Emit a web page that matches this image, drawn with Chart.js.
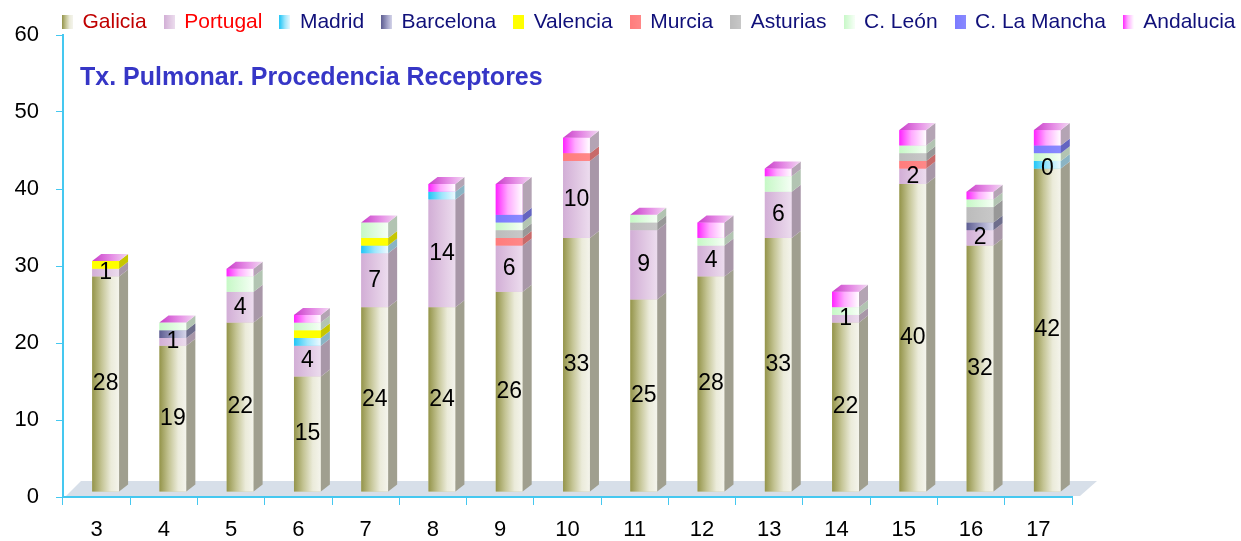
<!DOCTYPE html>
<html>
<head>
<meta charset="utf-8">
<script src="https://cdn.jsdelivr.net/npm/chart.js@4/dist/chart.umd.min.js"></script>
<style>
  html, body { margin: 0; padding: 0; background: #fff; }
</style>
</head>
<body>
<canvas id="txChart" width="1241" height="541"></canvas>
<script>
// Datos: trasplantes pulmonares por año y procedencia del receptor
const anios = ['3', '4', '5', '6', '7', '8', '9', '10', '11', '12', '13', '14', '15', '16', '17'];
const galicia     = [28, 19, 22, 15, 24, 24, 26, 33, 25, 28, 33, 22, 40, 32, 42];
const portugal    = [1, 1, 4, 4, 7, 14, 6, 10, 9, 4, 6, 1, 2, 2, 0];
const madrid      = [0, 0, 0, 1, 1, 1, 0, 0, 0, 0, 0, 0, 0, 0, 1];
const barcelona   = [0, 1, 0, 0, 0, 0, 0, 0, 0, 0, 0, 0, 0, 1, 0];
const valencia    = [1, 0, 0, 1, 1, 0, 0, 0, 0, 0, 0, 0, 0, 0, 0];
const murcia      = [0, 0, 0, 0, 0, 0, 1, 1, 0, 0, 0, 0, 1, 0, 0];
const asturias    = [0, 0, 0, 0, 0, 0, 1, 0, 1, 0, 0, 0, 1, 2, 0];
const cLeon       = [0, 1, 2, 1, 2, 0, 1, 0, 1, 1, 2, 1, 1, 1, 1];
const cLaMancha   = [0, 0, 0, 0, 0, 0, 1, 0, 0, 0, 0, 0, 0, 0, 1];
const andalucia   = [0, 0, 1, 1, 0, 1, 4, 2, 0, 2, 1, 2, 2, 1, 2];
const ticksY      = [0, 10, 20, 30, 40, 50, 60];
const titulo      = 'Tx. Pulmonar. Procedencia Receptores';

// Estilo de cada serie: degradado frontal, cara lateral y color del texto de la leyenda
const series = [
  { label: 'Galicia', data: galicia, base: '#c8c89a', side: '#a09f8f', txt: '#c00000',
    front: [[0, '#94944a'], [0.35, '#c4c494'], [0.7, '#ebebda'], [1, '#f4f4ec']] },
  { label: 'Portugal', data: portugal, base: '#dcc0e0', side: '#a897a8', txt: '#ff0000',
    front: [[0, '#d2aed6'], [0.6, '#e2cae4'], [1, '#ecdcee']] },
  { label: 'Madrid', data: madrid, base: '#33ccff', side: '#8ab4c4', txt: '#10107a',
    front: [[0, '#22c6f6'], [0.5, '#9ee6fc'], [1, '#eefaff']] },
  { label: 'Barcelona', data: barcelona, base: '#7a7aa6', side: '#6e6e8c', txt: '#10107a',
    front: [[0, '#5e5e92'], [0.6, '#a8a8cc'], [1, '#d6d6ea']] },
  { label: 'Valencia', data: valencia, base: '#ffff00', side: '#c6c600', txt: '#10107a',
    front: [[0, '#ffff00'], [1, '#ffff00']] },
  { label: 'Murcia', data: murcia, base: '#ff7f7f', side: '#c86a6a', txt: '#10107a',
    front: [[0, '#ff7c7c'], [1, '#ff8888']] },
  { label: 'Asturias', data: asturias, base: '#c0c0c0', side: '#989898', txt: '#10107a',
    front: [[0, '#bcbcbc'], [1, '#c8c8c8']] },
  { label: 'C. León', data: cLeon, base: '#ccffcc', side: '#b2c4b2', txt: '#10107a',
    front: [[0, '#c6f8c6'], [0.6, '#e2fce2'], [1, '#f6fff6']] },
  { label: 'C. La Mancha', data: cLaMancha, base: '#7f7fff', side: '#6464c0', txt: '#10107a',
    front: [[0, '#7a7aff'], [1, '#8a8aff']] },
  { label: 'Andalucia', data: andalucia, base: '#ff44ff', side: '#b4a4b4', txt: '#10107a',
    front: [[0, '#ff22ff'], [0.45, '#ffaaff'], [1, '#ffffff']] }
];

const EJE = '#45c8f0';
const DX = 9, DY = 7;            // profundidad de las columnas
const DESP_X = 9, DESP_Y = -5;   // desplazamiento de la perspectiva
const PAD_LEYENDA = 18;

// Muestras de color de la leyenda (pequeño degradado)
function muestra(stops) {
  const c = document.createElement('canvas');
  c.width = 11; c.height = 14;
  const g = c.getContext('2d');
  const gr = g.createLinearGradient(0, 0, 11, 0);
  stops.forEach(([o, col]) => gr.addColorStop(o, col));
  g.fillStyle = gr;
  g.fillRect(0, 0, 11, 14);
  return c;
}
const muestras = series.map(s => muestra(s.front));

// Suelo, caras laterales, tapa superior y etiquetas de valor
const columnas3d = {
  id: 'columnas3d',
  afterLayout(chart) {
    // la leyenda se dibuja sobre el área sin reservar más alto
    const lg = chart.legend;
    lg.top = 22 - PAD_LEYENDA - 10.5;
    lg.bottom = lg.top + 50;
    lg.left = 63 - PAD_LEYENDA;
    lg.right = 1300;
  },
  beforeDatasetsDraw(chart) {
    const { ctx, chartArea, scales } = chart;
    const y0 = scales.y.getPixelForValue(0);
    ctx.save();
    ctx.fillStyle = '#d7dfe9';
    ctx.beginPath();
    ctx.moveTo(chartArea.left + 3, y0 - 1);
    ctx.lineTo(chartArea.right + 8, y0 - 1);
    ctx.lineTo(chartArea.right + 25, y0 - 16);
    ctx.lineTo(chartArea.left + 18, y0 - 16);
    ctx.closePath();
    ctx.fill();
    ctx.restore();
    ctx.save();
    ctx.translate(DESP_X, DESP_Y);
  },
  afterDatasetsDraw(chart) {
    const ctx = chart.ctx;
    const n = chart.data.datasets.length;
    chart.data.datasets.forEach((ds, di) => {
      const st = series[di];
      chart.getDatasetMeta(di).data.forEach((bar) => {
        const { x, y, base, width } = bar.getProps(['x', 'y', 'base', 'width'], true);
        const l = x - width / 2, r = x + width / 2;
        const top = Math.min(y, base), bot = Math.max(y, base);
        if (bot - top > 0.1) {
          const g = ctx.createLinearGradient(l, 0, r, 0);
          st.front.forEach(([o, c]) => g.addColorStop(o, c));
          ctx.fillStyle = g;
          ctx.fillRect(l, top, width, bot - top);
          ctx.fillStyle = st.side;
          ctx.beginPath();
          ctx.moveTo(r, bot);
          ctx.lineTo(r + DX, bot - DY);
          ctx.lineTo(r + DX, top - DY);
          ctx.lineTo(r, top);
          ctx.closePath();
          ctx.fill();
        }
        if (di === n - 1) {
          // tapa de la columna
          const gt = ctx.createLinearGradient(l, 0, r + DX, 0);
          gt.addColorStop(0, '#c83cc8');
          gt.addColorStop(0.55, '#e68ee6');
          gt.addColorStop(1, '#f2d8f2');
          ctx.fillStyle = gt;
          ctx.beginPath();
          ctx.moveTo(l, top);
          ctx.lineTo(r, top);
          ctx.lineTo(r + DX, top - DY);
          ctx.lineTo(l + DX, top - DY);
          ctx.closePath();
          ctx.fill();
        }
      });
    });
    // valores de Galicia y Portugal
    ctx.font = '23px "Liberation Sans", Arial, sans-serif';
    ctx.fillStyle = '#000';
    ctx.textAlign = 'center';
    ctx.textBaseline = 'middle';
    [0, 1].forEach(di => {
      chart.getDatasetMeta(di).data.forEach((bar, i) => {
        const { x, y, base } = bar.getProps(['x', 'y', 'base'], true);
        ctx.fillText(String(chart.data.datasets[di].data[i]), x, (y + base) / 2);
      });
    });
    ctx.restore();
  },
  afterDraw(chart) {
    const ctx = chart.ctx;
    ctx.save();
    ctx.font = 'bold 25px "Liberation Sans", Arial, sans-serif';
    ctx.fillStyle = '#3636c6';
    ctx.textAlign = 'left';
    ctx.textBaseline = 'alphabetic';
    ctx.fillText(titulo, chart.chartArea.left + 17, 85);
    ctx.restore();
  }
};

Chart.defaults.font.family = '"Liberation Sans", Arial, sans-serif';
Chart.defaults.color = '#000';

new Chart(document.getElementById('txChart'), {
  type: 'bar',
  data: {
    labels: anios,
    datasets: series.map(s => ({
      label: s.label,
      data: s.data,
      backgroundColor: s.base,
      borderWidth: 0,
      barPercentage: 0.4,
      categoryPercentage: 1,
      clip: false
    }))
  },
  options: {
    responsive: false,
    animation: false,
    devicePixelRatio: 1,
    layout: { padding: 0 },
    plugins: {
      tooltip: { enabled: false },
      legend: {
        position: 'top',
        align: 'start',
        maxHeight: 35,
        labels: {
          usePointStyle: true,
          pointStyleWidth: 9,
          padding: PAD_LEYENDA,
          font: { size: 21 },
          generateLabels: (chart) => chart.data.datasets.map((ds, i) => ({
            text: ds.label,
            pointStyle: muestras[i],
            fontColor: series[i].txt,
            fillStyle: 'transparent',
            strokeStyle: 'transparent',
            lineWidth: 0,
            hidden: false,
            datasetIndex: i
          }))
        }
      }
    },
    scales: {
      x: {
        stacked: true,
        grid: { drawOnChartArea: false, color: EJE, tickLength: 8, offset: true },
        border: { color: EJE, width: 2 },
        ticks: { font: { size: 22 }, padding: 12, maxRotation: 0 },
        afterFit: (s) => { s.height = 44; }
      },
      y: {
        stacked: true,
        min: 0,
        max: 60,
        afterBuildTicks: (s) => { s.ticks = ticksY.map(v => ({ value: v })); },
        grid: { drawOnChartArea: false, color: EJE, tickLength: 7 },
        border: { color: EJE, width: 2 },
        ticks: { font: { size: 22 }, padding: 17 },
        afterFit: (s) => { s.width = 63; }
      },
      margenDer: {
        position: 'right',
        display: true,
        grid: { display: false },
        border: { display: false },
        ticks: { display: false },
        afterFit: (s) => { s.width = 169; }
      }
    }
  },
  plugins: [columnas3d]
});
</script>
</body>
</html>
